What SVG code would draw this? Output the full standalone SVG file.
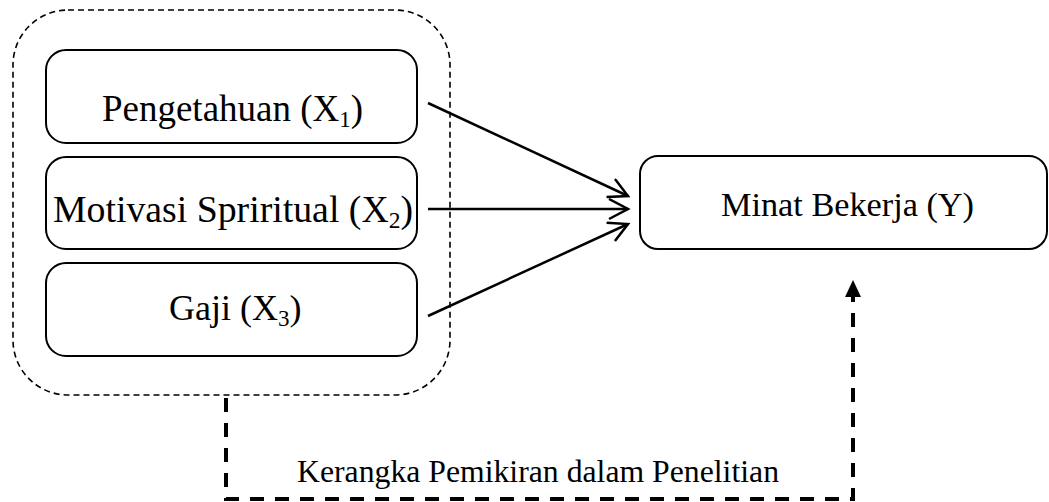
<svg xmlns="http://www.w3.org/2000/svg" width="1049" height="502" viewBox="0 0 1049 502">
<style>
.box{fill:#fff;stroke:#000;stroke-width:2}
.lbl{font-family:"Liberation Serif","Times New Roman",serif;fill:#000}
.arr{stroke:#000;stroke-width:2.5;fill:none}
.sub{font-size:23px}
</style>
<defs>
<marker id="open" markerWidth="24" markerHeight="24" refX="20" refY="11" orient="auto" markerUnits="userSpaceOnUse">
<path d="M1,1 L20,11 L1,21" fill="none" stroke="#000" stroke-width="2.5"/>
</marker>
<marker id="solid" markerWidth="20" markerHeight="20" refX="2" refY="8" orient="auto" markerUnits="userSpaceOnUse">
<path d="M0,0 L17,8 L0,16 Z" fill="#000"/>
</marker>
</defs>
<rect id="frame" x="13" y="10" width="437" height="385" rx="55" ry="55" fill="none" stroke="#000" stroke-width="1.6" stroke-dasharray="6 4"/>
<g id="x1">
<rect class="box" x="46" y="50" width="371" height="93" rx="20" ry="20"/>
<text class="lbl" x="102" y="121" font-size="37" textLength="261" lengthAdjust="spacingAndGlyphs">Pengetahuan (X<tspan class="sub" dy="6">1</tspan><tspan dy="-6">)</tspan></text>
</g>
<g id="x2">
<rect class="box" x="46" y="157" width="371" height="92" rx="20" ry="20"/>
<text class="lbl" x="53" y="222" font-size="37" textLength="360" lengthAdjust="spacingAndGlyphs">Motivasi Spriritual (X<tspan class="sub" dy="6">2</tspan><tspan dy="-6">)</tspan></text>
</g>
<g id="x3">
<rect class="box" x="46" y="263" width="371" height="93" rx="20" ry="20"/>
<text class="lbl" x="169" y="320" font-size="36">Gaji (X<tspan class="sub" dy="6">3</tspan><tspan dy="-6">)</tspan></text>
</g>
<g id="y">
<rect class="box" x="640" y="156" width="407" height="93" rx="18" ry="18"/>
<text class="lbl" x="721" y="216" font-size="34" textLength="253" lengthAdjust="spacingAndGlyphs">Minat Bekerja (Y)</text>
</g>
<g id="connectors">
<line class="arr" x1="428" y1="103" x2="628" y2="196" marker-end="url(#open)"/>
<line class="arr" x1="428" y1="209" x2="628" y2="209" marker-end="url(#open)"/>
<line class="arr" x1="428" y1="316" x2="628" y2="224" marker-end="url(#open)"/>
<path d="M226,398 V499 H853 V295" fill="none" stroke="#000" stroke-width="4" stroke-dasharray="14 11" marker-end="url(#solid)"/>
</g>
<text id="caption" class="lbl" x="297" y="482" font-size="31" textLength="482" lengthAdjust="spacingAndGlyphs">Kerangka Pemikiran dalam Penelitian</text>
</svg>
